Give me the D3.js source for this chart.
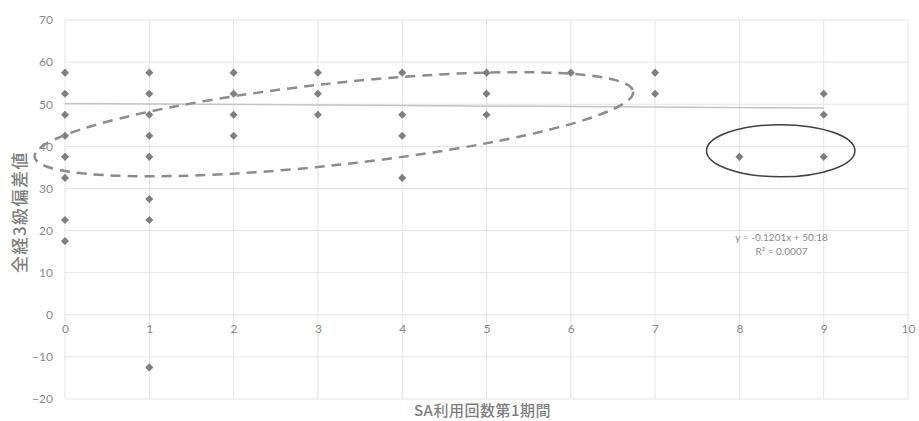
<!DOCTYPE html>
<html><head><meta charset="utf-8">
<script src="https://cdn.jsdelivr.net/npm/d3@7"></script>
<style>
html,body{margin:0;padding:0;background:#fff;}
svg text{font-family:Lato,"Noto Sans CJK JP",sans-serif;}
</style></head>
<body><svg id="c" width="919" height="421"></svg>
<script>
// Data: SA usage count (period 1) vs. 全経3級 deviation score
const xValues = [0,0,0,0,0,0,0,0, 1,1,1,1,1,1,1,1, 2,2,2,2, 3,3,3, 4,4,4,4, 5,5,5, 6, 7,7, 8, 9,9,9];
const yValues = [57.5,52.5,47.5,42.5,37.5,32.5,22.5,17.5,
                 57.5,52.5,47.5,42.5,37.5,27.5,22.5,-12.5,
                 57.5,52.5,47.5,42.5,
                 57.5,52.5,47.5,
                 57.5,47.5,42.5,32.5,
                 57.5,52.5,47.5,
                 57.5,
                 57.5,52.5,
                 37.5,
                 52.5,47.5,37.5];
const xTicks = [0,1,2,3,4,5,6,7,8,9,10];
const yTicks = [-20,-10,0,10,20,30,40,50,60,70];
const trendSlope = -0.1201, trendIntercept = 50.18;
const trendRange = [0, 9];
const trendLabels = ["y = -0.1201x + 50.18", "R² = 0.0007"];
const xTitle = "SA利用回数第1期間";
const yTitle = "全経3級偏差値";
// annotation ellipses (data units)
const dashedEllipseEnds = [[-0.36, 37.5], [6.74, 53.0]];
const dashedEllipseMinor = 9.7;
const solidEllipse = {cx: 8.49, cy: 38.95, rx: 0.88, ry: 6.2};

const svg = d3.select("#c");
const L = 65, R = 908, T = 20, B = 399;
const x = d3.scaleLinear().domain([0,10]).range([L,R]);
const y = d3.scaleLinear().domain([-20,70]).range([B,T]);
const grey = "#8a8a8a";

// gridlines
svg.append("g").selectAll("line").data(yTicks).join("line")
  .attr("x1",L).attr("x2",R).attr("y1",d=>y(d)).attr("y2",d=>y(d))
  .attr("stroke","#e4e4e4").attr("stroke-width",1);
svg.append("g").selectAll("line").data(xTicks).join("line")
  .attr("y1",T).attr("y2",B).attr("x1",d=>x(d)).attr("x2",d=>x(d))
  .attr("stroke","#e4e4e4").attr("stroke-width",1);

// y axis labels
const ya = svg.append("g").attr("transform",`translate(${L},0)`)
  .call(d3.axisLeft(y).tickValues(yTicks).tickSize(0).tickPadding(12));
ya.select(".domain").remove();
ya.selectAll("text").attr("fill",grey).style("font-size","12px").style("font-family","Lato,sans-serif");

// x axis labels at y=0
const xa = svg.append("g").attr("transform",`translate(0,${y(0)})`)
  .call(d3.axisBottom(x).tickValues(xTicks).tickSize(0).tickPadding(10));
xa.select(".domain").remove();
xa.selectAll("text").attr("fill",grey).style("font-size","12px").style("font-family","Lato,sans-serif");

// trend line
svg.append("line")
  .attr("x1",x(trendRange[0])).attr("y1",y(trendSlope*trendRange[0]+trendIntercept))
  .attr("x2",x(trendRange[1])).attr("y2",y(trendSlope*trendRange[1]+trendIntercept))
  .attr("stroke","#c4c4c4").attr("stroke-width",1.5);

// points
const pts = xValues.map((v,i)=>({x:v,y:yValues[i]}));
svg.append("g").selectAll("path").data(pts).join("path")
  .attr("d", d3.symbol(d3.symbolDiamond2, 42))
  .attr("transform", d=>`translate(${x(d.x)},${y(d.y)})`)
  .attr("fill","#7f7f7f");

// dashed ellipse
{
  const p1 = [x(dashedEllipseEnds[0][0]), y(dashedEllipseEnds[0][1])];
  const p2 = [x(dashedEllipseEnds[1][0]), y(dashedEllipseEnds[1][1])];
  const cx = (p1[0]+p2[0])/2, cy = (p1[1]+p2[1])/2;
  const rx = Math.hypot(p2[0]-p1[0], p2[1]-p1[1])/2;
  const ang = Math.atan2(p2[1]-p1[1], p2[0]-p1[0])*180/Math.PI;
  const ry = y(0) - y(dashedEllipseMinor);
  svg.append("ellipse").attr("cx",0).attr("cy",0).attr("rx",rx).attr("ry",ry)
    .attr("transform",`translate(${cx},${cy}) rotate(${ang})`)
    .attr("fill","none").attr("stroke","#8c8c8c").attr("stroke-width",2.5)
    .attr("stroke-dasharray","10,7");
}
// solid ellipse
svg.append("ellipse")
  .attr("cx",x(solidEllipse.cx)).attr("cy",y(solidEllipse.cy))
  .attr("rx",x(solidEllipse.rx)-x(0)).attr("ry",y(0)-y(solidEllipse.ry))
  .attr("fill","none").attr("stroke","#404040").attr("stroke-width",1.5);

// trend equation
svg.append("g").selectAll("text").data(trendLabels).join("text")
  .attr("x", x(8.5)).attr("y",(d,i)=>y(17.5) + i*14)
  .attr("text-anchor","middle").attr("fill","#8a8a8a")
  .style("font-size","10px").text(d=>d);

// titles
svg.append("text").attr("x",(L+R)/2 - 4).attr("y",416)
  .attr("text-anchor","middle").attr("fill","#7f7f7f")
  .style("font-size","15px").style("font-weight","500").style("letter-spacing","0.5px")
  .style("font-family","'Noto Sans CJK JP',sans-serif").text(xTitle);
svg.append("text").attr("transform",`translate(26,212) rotate(-90)`)
  .attr("text-anchor","middle").attr("fill","#7f7f7f")
  .style("font-size","17px").style("font-weight","500").style("letter-spacing","1.5px")
  .style("font-family","'Noto Sans CJK JP',sans-serif").text(yTitle);
</script></body></html>
